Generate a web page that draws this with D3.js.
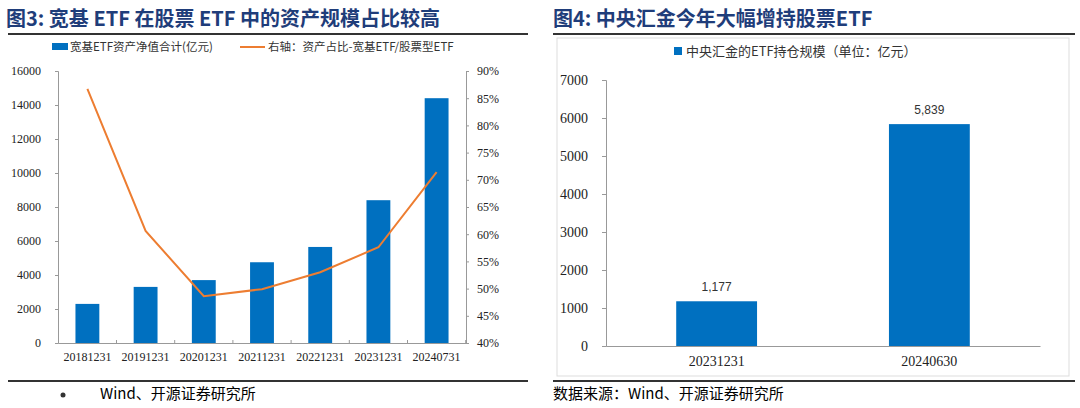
<!DOCTYPE html>
<html lang="zh">
<head>
<meta charset="UTF-8">
<script src="https://d3js.org/d3.v7.min.js"></script>
<style>
  body { margin: 0; background: #fff; }
  svg { display: block; font-family: "Liberation Serif", "Noto Sans CJK SC", serif; }
</style>
</head>
<body>
<svg id="c" width="1080" height="408"></svg>
<script>
// left chart data
const dates = ["20181231","20191231","20201231","20211231","20221231","20231231","20240731"];
const netValue = [2300, 3300, 3700, 4750, 5650, 8400, 14400];
const sharePct = [86.7, 60.6, 48.6, 49.9, 53.0, 57.6, 71.4];
const leftTicks = [0,2000,4000,6000,8000,10000,12000,14000,16000];
const rightTicks = [40,45,50,55,60,65,70,75,80,85,90];
// right chart data
const hjDates = ["20231231","20240630"];
const hjValue = [1177, 5839];
const hjTicks = [0,1000,2000,3000,4000,5000,6000,7000];

const blue = "#0070c0", orange = "#ed7d31", cjk = "'Noto Sans CJK SC', sans-serif";
const svg = d3.select("#c");

// titles
svg.append("text").attr("x", 6).attr("y", 26).attr("font-size", 20).attr("font-weight", "bold")
  .attr("fill", "#1f3d7a").attr("font-family", "'Noto Sans CJK SC', serif").text("图3:  宽基 ETF 在股票 ETF 中的资产规模占比较高");
svg.append("text").attr("x", 553).attr("y", 26).attr("font-size", 20).attr("font-weight", "bold")
  .attr("fill", "#1f3d7a").attr("font-family", "'Noto Sans CJK SC', serif").text("图4:  中央汇金今年大幅增持股票ETF");
[[8, 528], [553, 1075]].forEach(([a, b]) => {
  svg.append("line").attr("x1", a).attr("x2", b).attr("y1", 34).attr("y2", 34).attr("stroke", "#333").attr("stroke-width", 2);
  svg.append("line").attr("x1", a).attr("x2", b).attr("y1", 381).attr("y2", 381).attr("stroke", "#333").attr("stroke-width", 2);
});
svg.append("text").attr("x", 100).attr("y", 399).attr("font-size", 15).attr("font-family", cjk).text("Wind、开源证券研究所");
svg.append("circle").attr("cx", 63).attr("cy", 395).attr("r", 2.5).attr("fill", "#333");
svg.append("text").attr("x", 553).attr("y", 399).attr("font-size", 15).attr("font-family", cjk).text("数据来源：Wind、开源证券研究所");

// ----- left chart
const x1 = d3.scaleBand().domain(dates).range([58, 466]).paddingInner(0.59).paddingOuter(0.3);
const yL = d3.scaleLinear().domain([0, 16000]).range([343, 71]);
const yR = d3.scaleLinear().domain([40, 90]).range([343, 71]);
const g1 = svg.append("g");
g1.selectAll("rect").data(netValue).join("rect")
  .attr("x", (d, i) => x1(dates[i])).attr("width", x1.bandwidth())
  .attr("y", d => yL(d)).attr("height", d => 343 - yL(d)).attr("fill", blue);
const axL = g1.append("g").attr("transform", "translate(58,0)")
  .call(d3.axisLeft(yL).tickValues(leftTicks).tickSize(3).tickPadding(14).tickFormat(d3.format("d")));
const axR = g1.append("g").attr("transform", "translate(466,0)")
  .call(d3.axisRight(yR).tickValues(rightTicks).tickSize(3).tickPadding(8).tickFormat(d => d + "%"));
const axB = g1.append("g").attr("transform", "translate(0,343)")
  .call(d3.axisBottom(x1).tickSize(0).tickPadding(9));
axB.selectAll(".tick").append("line").attr("x1", x1.step() / 2).attr("x2", x1.step() / 2).attr("y1", 0).attr("y2", -3).attr("stroke", "#999");
[axL, axR, axB].forEach(a => {
  a.select(".domain").attr("stroke", "#999");
  a.selectAll(".tick line").attr("stroke", "#999");
  a.selectAll("text").attr("font-size", 12).attr("fill", "#222").attr("font-family", "Liberation Serif, serif");
});
g1.append("path").datum(sharePct)
  .attr("d", d3.line().x((d, i) => x1(dates[i]) + x1.bandwidth() / 2).y(d => yR(d)))
  .attr("fill", "none").attr("stroke", orange).attr("stroke-width", 2);
// legend
g1.append("rect").attr("x", 52).attr("y", 43).attr("width", 16).attr("height", 7).attr("fill", blue);
g1.append("text").attr("x", 70).attr("y", 51).attr("font-size", 11.5).attr("font-family", cjk).attr("fill", "#333").text("宽基ETF资产净值合计(亿元)");
g1.append("line").attr("x1", 240).attr("x2", 265).attr("y1", 47).attr("y2", 47).attr("stroke", orange).attr("stroke-width", 2);
g1.append("text").attr("x", 268).attr("y", 51).attr("font-size", 11.5).attr("font-family", cjk).attr("fill", "#333").text("右轴：资产占比-宽基ETF/股票型ETF");

// ----- right chart
svg.append("rect").attr("x", 557).attr("y", 38).attr("width", 512).attr("height", 338).attr("fill", "none").attr("stroke", "#ddd");
const x2 = d3.scaleBand().domain(hjDates).range([606, 1040]).paddingInner(0.62).paddingOuter(0.33);
const y2 = d3.scaleLinear().domain([0, 7000]).range([346, 80]);
const g2 = svg.append("g");
g2.selectAll("rect").data(hjValue).join("rect")
  .attr("x", (d, i) => x2(hjDates[i])).attr("width", x2.bandwidth())
  .attr("y", d => y2(d)).attr("height", d => 346 - y2(d)).attr("fill", blue);
g2.selectAll(".lbl").data(hjValue).join("text").attr("class", "lbl")
  .attr("x", (d, i) => x2(hjDates[i]) + x2.bandwidth() / 2).attr("y", d => y2(d) - 10)
  .attr("text-anchor", "middle").attr("font-size", 12).attr("font-family", "Liberation Sans, sans-serif").attr("fill", "#333")
  .text(d3.format(","));
const ay2 = g2.append("g").attr("transform", "translate(606,0)")
  .call(d3.axisLeft(y2).tickValues(hjTicks).tickSize(4).tickPadding(14).tickFormat(d3.format("d")));
const ax2 = g2.append("g").attr("transform", "translate(0,346)")
  .call(d3.axisBottom(x2).tickSize(0).tickPadding(10));
[ay2, ax2].forEach(a => {
  a.select(".domain").attr("stroke", "#999");
  a.selectAll(".tick line").attr("stroke", "#999");
  a.selectAll("text").attr("font-size", 14).attr("fill", "#222").attr("font-family", "Liberation Serif, serif");
});
g2.append("rect").attr("x", 674).attr("y", 47).attr("width", 8).attr("height", 8).attr("fill", blue);
g2.append("text").attr("x", 686).attr("y", 56).attr("font-size", 13).attr("font-family", cjk).attr("fill", "#333").text("中央汇金的ETF持仓规模（单位：亿元）");
</script>
</body>
</html>
